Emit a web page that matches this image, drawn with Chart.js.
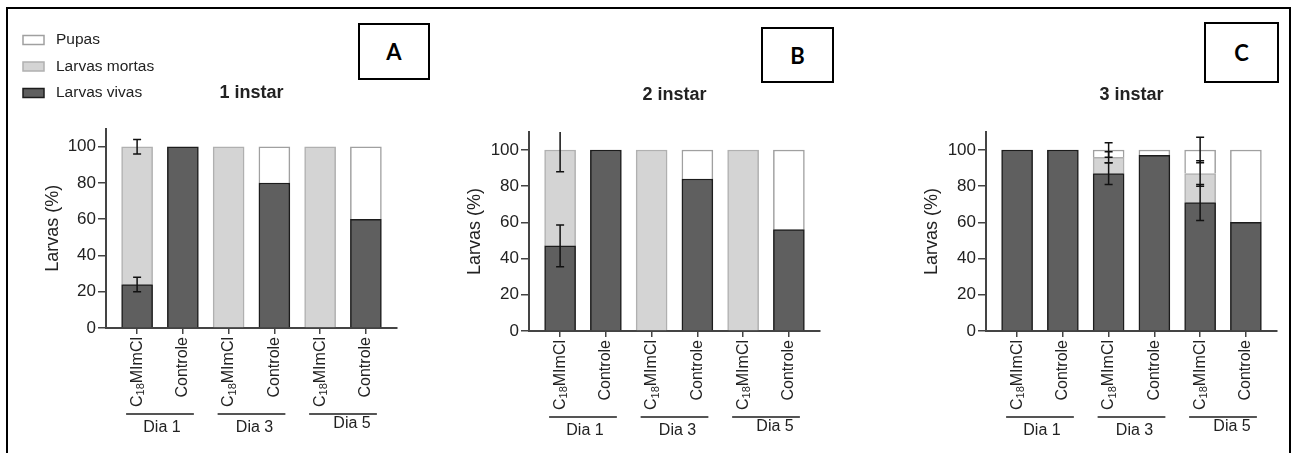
<!DOCTYPE html>
<html>
<head>
<meta charset="utf-8">
<script src="https://cdn.jsdelivr.net/npm/chart.js@4.4.1/dist/chart.umd.min.js"></script>
<style>
  html, body { margin: 0; padding: 0; background: #fff; }
  body { width: 1295px; height: 453px; position: relative; overflow: hidden; }
  .frame { position: absolute; left: 6px; top: 7px; width: 1281px; height: 470px; border: 2px solid #000; }
  canvas { position: absolute; top: 0; }
  .tag { position: absolute; border: 2px solid #000; box-sizing: border-box; background: #fff; z-index: 2;
         font: bold 22px Lato, "Liberation Sans", sans-serif; color: #000;
         display: flex; align-items: center; justify-content: center; }
</style>
</head>
<body>
<div class="frame"></div>
<canvas id="chartA" width="440" height="453" style="left:0px"></canvas>
<canvas id="chartB" width="430" height="453" style="left:440px"></canvas>
<canvas id="chartC" width="425" height="453" style="left:870px"></canvas>
<div class="tag" style="left:358px;top:23px;width:72px;height:57px">A</div>
<div class="tag" style="left:761px;top:27px;width:73px;height:56px">B</div>
<div class="tag" style="left:1204px;top:22px;width:75px;height:61px">C</div>

<script>
const treatments = ['C18MImCl', 'Controle', 'C18MImCl', 'Controle', 'C18MImCl', 'Controle'];
const days = ['Dia 1', 'Dia 3', 'Dia 5'];
const seriesNames = ['Larvas vivas', 'Larvas mortas', 'Pupas'];
const yTicks = [0, 20, 40, 60, 80, 100];

// 1 instar
const vivasA = [24, 100, 0, 80, 0, 60];
const mortasA = [76, 0, 100, 0, 100, 0];
const pupasA = [0, 0, 0, 20, 0, 40];
const errVivasA = [4, 0, 0, 0, 0, 0];
const errMortasA = [4, 0, 0, 0, 0, 0];
const errPupasA = [0, 0, 0, 0, 0, 0];

// 2 instar
const vivasB = [47, 100, 0, 84, 0, 56];
const mortasB = [53, 0, 100, 0, 100, 0];
const pupasB = [0, 0, 0, 16, 0, 44];
const errVivasB = [11.5, 0, 0, 0, 0, 0];
const errMortasB = [12, 0, 0, 0, 0, 0];
const errPupasB = [0, 0, 0, 0, 0, 0];

// 3 instar
const vivasC = [100, 100, 87, 97, 71, 60];
const mortasC = [0, 0, 9, 0, 16, 0];
const pupasC = [0, 0, 4, 3, 13, 40];
const errVivasC = [0, 0, 6, 0, 10, 0];
const errMortasC = [0, 0, 3, 0, 7, 0];
const errPupasC = [0, 0, 4, 0, 7, 0];

const FONT = '"Liberation Sans", Arial, sans-serif';
const INK = '#222';
const AXIS = '#444';

// barras de erro, rótulos do eixo x, grupos de dias, título e legenda
const decorPlugin = {
  id: 'decor',
  afterDatasetsDraw(chart) {
    const ctx = chart.ctx;
    const xs = chart.scales.x, ys = chart.scales.y, area = chart.chartArea;
    ctx.save();
    ctx.beginPath();
    ctx.rect(area.left - 10, area.top, area.right - area.left + 20, area.bottom - area.top);
    ctx.clip();
    ctx.strokeStyle = '#111';
    ctx.lineWidth = 1.5;
    chart.data.datasets.forEach((ds, d) => {
      ds.errors.forEach((err, i) => {
        if (!err) return;
        let cum = 0;
        for (let k = 0; k <= d; k++) cum += chart.data.datasets[k].data[i].y || 0;
        const x = xs.getPixelForValue(i);
        const yTop = ys.getPixelForValue(cum + err);
        const yBot = ys.getPixelForValue(cum - err);
        ctx.beginPath();
        ctx.moveTo(x, yTop); ctx.lineTo(x, yBot);
        ctx.moveTo(x - 4, yTop); ctx.lineTo(x + 4, yTop);
        ctx.moveTo(x - 4, yBot); ctx.lineTo(x + 4, yBot);
        ctx.stroke();
      });
    });
    ctx.restore();
  },
  afterDraw(chart, args, opts) {
    const ctx = chart.ctx;
    const xs = chart.scales.x, ys = chart.scales.y, area = chart.chartArea;
    const base = ys.getPixelForValue(0);
    ctx.save();
    ctx.fillStyle = INK;

    // rótulos girados com subscrito
    treatments.forEach((t, i) => {
      const x = xs.getPixelForValue(i);
      ctx.save();
      ctx.translate(x, base + 9);
      ctx.rotate(-Math.PI / 2);
      ctx.textBaseline = 'middle';
      ctx.textAlign = 'left';
      const big = '16px ' + FONT, small = '11px ' + FONT;
      if (t.startsWith('C18')) {
        ctx.font = big; const w1 = ctx.measureText('C').width; const w3 = ctx.measureText('MImCl').width;
        ctx.font = small; const w2 = ctx.measureText('18').width;
        let pos = -(w1 + w2 + w3);
        ctx.font = big; ctx.fillText('C', pos, 0); pos += w1;
        ctx.font = small; ctx.fillText('18', pos, 4); pos += w2;
        ctx.font = big; ctx.fillText('MImCl', pos, 0);
      } else {
        ctx.font = big;
        ctx.textAlign = 'right';
        ctx.fillText(t, 0, 0);
      }
      ctx.restore();
    });

    // grupos de dias
    const dx = [2, 3, 9], dy = [0, 0, -4];
    days.forEach((day, g) => {
      const x1 = xs.getPixelForValue(2 * g) - 11;
      const x2 = xs.getPixelForValue(2 * g + 1) + 11;
      ctx.strokeStyle = '#555';
      ctx.lineWidth = 2;
      ctx.beginPath();
      ctx.moveTo(x1, base + 86); ctx.lineTo(x2, base + 86);
      ctx.stroke();
      ctx.font = '16px ' + FONT;
      ctx.textAlign = 'center';
      ctx.textBaseline = 'middle';
      ctx.fillText(day, (x1 + x2) / 2 + dx[g], base + 100 + dy[g]);
    });

    // título
    ctx.font = 'bold 18px ' + FONT;
    ctx.textAlign = 'center';
    ctx.textBaseline = 'middle';
    ctx.fillText(opts.title, (area.left + area.right) / 2, opts.titleY);

    // legenda
    if (opts.legend) {
      const items = chart.data.datasets.slice().reverse();
      items.forEach((ds, k) => {
        const cy = 40 + k * 26.5;
        ctx.fillStyle = ds.backgroundColor;
        ctx.fillRect(23, cy - 4.5, 21, 9);
        ctx.strokeStyle = ds.borderColor;
        ctx.lineWidth = 1.5;
        ctx.strokeRect(23, cy - 4.5, 21, 9);
        ctx.fillStyle = INK;
        ctx.font = '15.5px ' + FONT;
        ctx.textAlign = 'left';
        ctx.fillText(ds.label, 56, cy);
      });
    }
    ctx.restore();
  }
};

function makeChart(id, vivas, mortas, pupas, errV, errM, errP, cfg) {
  const toPts = arr => arr.map((v, i) => ({x: i, y: v || null}));
  return new Chart(document.getElementById(id), {
    type: 'bar',
    data: {
      datasets: [
        {label: seriesNames[0], data: toPts(vivas), errors: errV, backgroundColor: '#5f5f5f', borderColor: '#1c1c1c', borderWidth: 1.5},
        {label: seriesNames[1], data: toPts(mortas), errors: errM, backgroundColor: '#d4d4d4', borderColor: '#b0b0b0', borderWidth: 1.5},
        {label: seriesNames[2], data: toPts(pupas), errors: errP, backgroundColor: '#ffffff', borderColor: '#a0a0a0', borderWidth: 1.5}
      ]
    },
    options: {
      responsive: false,
      animation: false,
      layout: {padding: {left: cfg.padL, right: cfg.padR, top: cfg.top, bottom: 0}},
      datasets: {bar: {barThickness: 31}},
      scales: {
        x: {
          type: 'linear', stacked: true, min: -0.68, max: 5.68, offset: false,
          afterBuildTicks: s => { s.ticks = treatments.map((_, i) => ({value: i})); },
          afterFit: s => { s.height = cfg.xH; },
          ticks: {display: false},
          grid: {drawOnChartArea: false, drawTicks: true, tickLength: 6, color: AXIS, lineWidth: 1.5, offset: false},
          border: {color: AXIS, width: 2}
        },
        y: {
          type: 'linear', stacked: true, min: 0, max: 110,
          afterBuildTicks: s => { s.ticks = yTicks.map(v => ({value: v})); },
          afterFit: s => { s.width = cfg.yW; },
          ticks: {font: {size: 17, family: FONT}, color: INK, padding: 2},
          grid: {drawOnChartArea: false, drawTicks: true, tickLength: 8, color: AXIS, lineWidth: 1.5},
          border: {color: AXIS, width: 2},
          title: {display: true, text: 'Larvas (%)', font: {size: 18, family: FONT}, color: INK, padding: {top: 4, bottom: 0}}
        }
      },
      plugins: {
        legend: {display: false},
        tooltip: {enabled: false},
        decor: {title: cfg.title, titleY: cfg.titleY, legend: cfg.legend}
      }
    },
    plugins: [decorPlugin]
  });
}

makeChart('chartA', vivasA, mortasA, pupasA, errVivasA, errMortasA, errPupasA,
  {padL: 38, yW: 68, padR: 43, top: 128.6, xH: 125, title: '1 instar', titleY: 93, legend: true});
makeChart('chartB', vivasB, mortasB, pupasB, errVivasB, errMortasB, errPupasB,
  {padL: 20, yW: 69, padR: 50, top: 131.9, xH: 122, title: '2 instar', titleY: 95, legend: false});
makeChart('chartC', vivasC, mortasC, pupasC, errVivasC, errMortasC, errPupasC,
  {padL: 47, yW: 69, padR: 18, top: 131.9, xH: 122, title: '3 instar', titleY: 95, legend: false});
</script>
</body>
</html>
